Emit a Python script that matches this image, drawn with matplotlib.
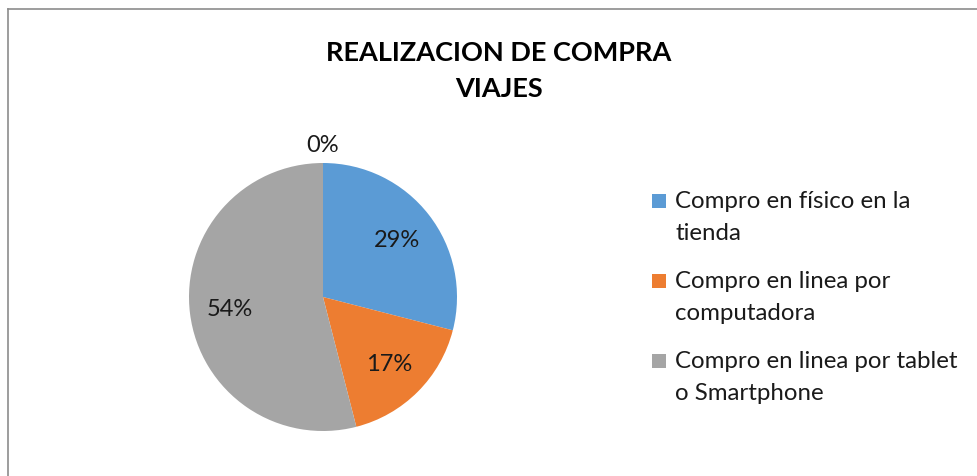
"""Pie chart: realizacion de compra - viajes."""

import matplotlib

matplotlib.use("Agg")
import matplotlib.pyplot as plt
from matplotlib.lines import Line2D
from matplotlib.patches import Rectangle

plt.rcParams["font.family"] = ["Lato", "DejaVu Sans"]

TITLE = "REALIZACION DE COMPRA\nVIAJES"
CATEGORIES = [
    "Compro en físico en la\ntienda",
    "Compro en linea por\ncomputadora",
    "Compro en linea por tablet\no Smartphone",
    "",
]
VALUES = [29, 17, 54, 0]
COLORS = ["#5B9BD5", "#ED7D31", "#A5A5A5", "#FFC000"]

W, H = 977, 477
fig = plt.figure(figsize=(W / 100, H / 100), dpi=100)
fig.patch.set_facecolor("white")

# chart frame (only top and left edges visible in the crop)
fig.add_artist(Line2D([8 / W, 8 / W], [0, 1 - 10 / H], color="#8C8C8C", linewidth=1.2))
fig.add_artist(Line2D([8 / W, 1], [1 - 10 / H, 1 - 10 / H], color="#8C8C8C", linewidth=1.2))

fig.text(499 / W, 1 - 71 / H, TITLE, ha="center", va="center", fontsize=19.5,
         fontweight="bold", linespacing=1.6, color="#000000")

cx, cy, r = 323, 298, 134
ax = fig.add_axes([(cx - r) / W, (H - cy - r) / H, 2 * r / W, 2 * r / H])
wedges, _, pcts = ax.pie(
    VALUES,
    colors=COLORS,
    startangle=90,
    counterclock=False,
    autopct="%1.0f%%",
    pctdistance=0.70,
    wedgeprops={"linewidth": 0},
    textprops={"fontsize": 17, "color": "#1a1a1a"},
)
for value, txt in zip(VALUES, pcts):
    if value == 0:
        txt.set_position((0, 1.14))
ax.set_xlim(-1, 1)
ax.set_ylim(-1, 1)
ax.set_aspect("equal")

# legend, Excel style: marker aligned with the first text line
for i, (label, color) in enumerate(zip(CATEGORIES[:3], COLORS[:3])):
    y = 202 + 80 * i
    fig.add_artist(Rectangle((652 / W, 1 - (y + 7) / H), 14 / W, 14 / H,
                             transform=fig.transFigure, facecolor=color, edgecolor="none"))
    fig.text(675 / W, 1 - (y - 11) / H, label, ha="left", va="top", fontsize=17.3,
             linespacing=1.64, color="#1a1a1a")

fig.savefig("out.png", dpi=100, facecolor="white")
